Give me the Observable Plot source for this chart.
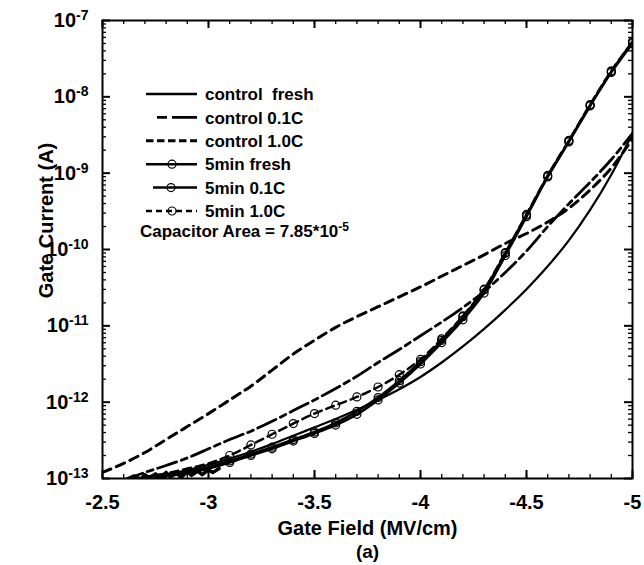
<!DOCTYPE html>
<html>
<head>
<meta charset="utf-8">
<script src="https://cdn.jsdelivr.net/npm/d3@7"></script>
<script src="https://cdn.jsdelivr.net/npm/@observablehq/plot@0.6"></script>
<style>
  html, body { margin: 0; padding: 0; background: #fff; }
  #chart svg { display: block; }
</style>
</head>
<body>
<div id="chart"></div>
<script>
// ---- data ----
const fields = [-2.5,-2.6,-2.7,-2.8,-2.9,-3.0,-3.1,-3.2,-3.3,-3.4,-3.5,-3.6,-3.7,-3.8,-3.9,-4.0,-4.1,-4.2,-4.3,-4.4,-4.5,-4.6,-4.7,-4.8,-4.9,-5.0];

const controlFresh = [null,null,9.5e-14,1.12e-13,1.29e-13,1.51e-13,1.82e-13,2.24e-13,2.82e-13,3.63e-13,4.68e-13,6.03e-13,7.94e-13,1.07e-12,1.48e-12,2.14e-12,3.31e-12,5.37e-12,9.12e-12,1.62e-11,3.02e-11,6.03e-11,1.32e-10,3.31e-10,9.55e-10,3.31e-9];
const control01C = [null,9.5e-14,1.2e-13,1.48e-13,1.86e-13,2.45e-13,3.24e-13,4.17e-13,5.62e-13,7.76e-13,1.07e-12,1.51e-12,2.19e-12,3.31e-12,4.9e-12,7.41e-12,1.12e-11,1.74e-11,2.82e-11,5.01e-11,9.55e-11,2.0e-10,3.98e-10,7.59e-10,1.51e-9,3.31e-9];
const control10C = [1.2e-13,1.58e-13,2.19e-13,3.24e-13,4.79e-13,7.08e-13,1.07e-12,1.62e-12,2.63e-12,4.27e-12,6.46e-12,9.55e-12,1.32e-11,1.78e-11,2.4e-11,3.24e-11,4.47e-11,6.17e-11,8.51e-11,1.2e-10,1.62e-10,2.29e-10,3.47e-10,6.03e-10,1.17e-9,2.82e-9];
const fiveMinFresh = [null,null,9.3e-14,1.07e-13,1.17e-13,1.35e-13,1.62e-13,2.0e-13,2.45e-13,3.09e-13,3.89e-13,5.01e-13,6.92e-13,1.07e-12,1.78e-12,3.16e-12,6.03e-12,1.2e-11,2.69e-11,8.32e-11,2.69e-10,8.91e-10,2.57e-9,7.59e-9,2.09e-8,5.01e-8];
const fiveMin01C = [null,null,9.8e-14,1.1e-13,1.23e-13,1.41e-13,1.7e-13,2.09e-13,2.57e-13,3.24e-13,4.07e-13,5.37e-13,7.59e-13,1.15e-12,1.91e-12,3.39e-12,6.46e-12,1.32e-11,2.95e-11,8.91e-11,2.82e-10,9.12e-10,2.63e-9,7.76e-9,2.14e-8,5.25e-8];
const fiveMin10C = [null,null,1.05e-13,1.17e-13,1.35e-13,1.58e-13,2.0e-13,2.75e-13,3.8e-13,5.25e-13,7.08e-13,9.12e-13,1.17e-12,1.58e-12,2.29e-12,3.63e-12,6.76e-12,1.35e-11,3.02e-11,9.12e-11,2.88e-10,9.33e-10,2.69e-9,7.94e-9,2.19e-8,5.25e-8];

// noisy measurement floor at low field (bundle of all low-field traces)
const floorFields = [-2.62,-2.65,-2.68,-2.7,-2.72,-2.75,-2.77,-2.8,-2.82,-2.85,-2.87,-2.9,-2.92,-2.95,-2.97,-3.0,-3.02,-3.05];
const floorCurrents = [1.0e-13,1.08e-13,0.98e-13,1.12e-13,1.02e-13,1.15e-13,1.0e-13,1.2e-13,1.05e-13,1.18e-13,1.03e-13,1.22e-13,1.1e-13,1.25e-13,1.12e-13,1.3e-13,1.2e-13,1.35e-13];

const seriesNames = ["control  fresh","control 0.1C","control 1.0C","5min fresh","5min 0.1C","5min 1.0C"];
const xTicks = [-2.5,-3,-3.5,-4,-4.5,-5];
const yTicks = [1e-13,1e-12,1e-11,1e-10,1e-9,1e-8,1e-7];
const xLabel = "Gate Field (MV/cm)";
const yLabel = "Gate Current (A)";
const panelLabel = "(a)";
const noteText = "Capacitor Area = 7.85*10";
const noteExp = "-5";

// ---- layout ----
const W = 644, H = 565, mL = 102, mR = 12, mT = 20, mB = 87;
const frameW = W - mL - mR, frameH = H - mT - mB;

const rows = (arr, s) => fields.map((f, i) => ({field: f, current: arr[i], series: s})).filter(d => d.current != null);
const cf = rows(controlFresh, seriesNames[0]);
const c01 = rows(control01C, seriesNames[1]);
const c10 = rows(control10C, seriesNames[2]);
const f0 = rows(fiveMinFresh, seriesNames[3]);
const f01 = rows(fiveMin01C, seriesNames[4]);
const f10 = rows(fiveMin10C, seriesNames[5]);
const floorRows = floorFields.map((f, i) => ({field: f, current: floorCurrents[i]}));
const dotsOf = r => r.filter(d => d.field <= -3.05);

const xMinor = d3.range(25, 51).map(k => -k / 10);
const yMinor = [];
for (let e = -13; e < -7; e++) for (let m = 2; m <= 9; m++) yMinor.push(m * Math.pow(10, e));

const lineOpts = (extra) => Object.assign({x: "field", y: "current", stroke: "black", strokeWidth: 2.5, curve: "catmull-rom", clip: true}, extra);
const dotOpts = {x: "field", y: "current", r: 4, stroke: "black", strokeWidth: 1.2, fill: "none", clip: true};

const chart = Plot.plot({
  width: W, height: H,
  marginLeft: mL, marginRight: mR, marginTop: mT, marginBottom: mB,
  style: {fontFamily: "'Liberation Sans', Arial, sans-serif", fontWeight: "bold", color: "black", background: "white", overflow: "visible"},
  x: {domain: [-2.5, -5], label: null},
  y: {type: "log", domain: [1e-13, 1e-7], label: null},
  marks: [
    // minor and major ticks inward on all four sides
    Plot.ruleX(xMinor, {insetTop: frameH - 4, stroke: "black", strokeWidth: 1.3}),
    Plot.ruleX(xMinor, {insetBottom: frameH - 4, stroke: "black", strokeWidth: 1.3}),
    Plot.ruleX(xTicks, {insetTop: frameH - 8, stroke: "black", strokeWidth: 2}),
    Plot.ruleX(xTicks, {insetBottom: frameH - 8, stroke: "black", strokeWidth: 2}),
    Plot.ruleY(yMinor, {insetRight: frameW - 4, stroke: "black", strokeWidth: 1.3}),
    Plot.ruleY(yMinor, {insetLeft: frameW - 4, stroke: "black", strokeWidth: 1.3}),
    Plot.ruleY(yTicks, {insetRight: frameW - 8, stroke: "black", strokeWidth: 2}),
    Plot.ruleY(yTicks, {insetLeft: frameW - 8, stroke: "black", strokeWidth: 2}),
    Plot.axisX({ticks: xTicks, tickSize: 0, tickPadding: 16, tickFormat: d => String(d), fontSize: 20, fontWeight: "bold", label: null}),
    Plot.axisY({ticks: yTicks, tickSize: 0, tickPadding: 14, tickFormat: d => "10^" + Math.round(Math.log10(d)), fontSize: 20, fontWeight: "bold", label: null}),
    // data
    Plot.line(floorRows, {x: "field", y: "current", stroke: "black", strokeWidth: 3.5, clip: true}),
    Plot.line(c10, lineOpts({strokeDasharray: "9,6", strokeWidth: 3})),
    Plot.line(c01, lineOpts({strokeDasharray: "20,5,6,5", strokeWidth: 2.8})),
    Plot.line(cf, lineOpts({strokeWidth: 2.2})),
    Plot.line(f10, lineOpts({strokeDasharray: "8,5", strokeWidth: 2.5})),
    Plot.line(f01, lineOpts({strokeWidth: 2.5})),
    Plot.line(f0, lineOpts({strokeWidth: 2.5})),
    Plot.dot(dotsOf(f10), dotOpts),
    Plot.dot(dotsOf(f01), dotOpts),
    Plot.dot(dotsOf(f0), dotOpts),
    Plot.frame({stroke: "black", strokeWidth: 2}),
    // axis titles
    Plot.text([xLabel], {frameAnchor: "bottom", dy: 50, fontSize: 20, fontWeight: "bold", textAnchor: "middle", lineAnchor: "middle"}),
    Plot.text([panelLabel], {frameAnchor: "bottom", dy: 73, fontSize: 19, fontWeight: "bold", textAnchor: "middle", lineAnchor: "middle"}),
    Plot.text([yLabel], {frameAnchor: "left", dx: -56, dy: -29, rotate: -90, fontSize: 20, fontWeight: "bold", textAnchor: "middle", lineAnchor: "middle"})
  ]
});

document.getElementById("chart").appendChild(chart);

// superscripted y tick labels
const NS = "http://www.w3.org/2000/svg";
chart.querySelectorAll('g[aria-label="y-axis tick label"] text').forEach(t => {
  const [b, e] = t.textContent.split("^");
  t.textContent = "";
  const t1 = document.createElementNS(NS, "tspan"); t1.textContent = b; t.appendChild(t1);
  const t2 = document.createElementNS(NS, "tspan"); t2.textContent = e;
  t2.setAttribute("dy", "-0.5em"); t2.setAttribute("font-size", "14");
  t.appendChild(t2);
});

// legend
const svg = d3.select(chart);
const lg = svg.append("g").attr("font-family", "'Liberation Sans', Arial, sans-serif")
  .attr("font-weight", "bold").attr("font-size", 17).attr("text-anchor", "start");
const legendRows = [
  {x1: 146, x2: 197, dash: null, w: 2.5, dot: null},
  {x1: 157, x2: 197, dash: "10,5,25", w: 2.8, dot: null},
  {x1: 146, x2: 197, dash: "7.5,3.5", w: 3, dot: null},
  {x1: 146, x2: 197, dash: null, w: 2.5, dot: 172},
  {x1: 153, x2: 197, dash: null, w: 2.5, dot: 171},
  {x1: 146, x2: 197, dash: "6,4", w: 2.5, dot: 172}
];
legendRows.forEach((r, i) => {
  const y = 94 + i * 23.4;
  const ln = lg.append("line").attr("x1", r.x1).attr("x2", r.x2).attr("y1", y).attr("y2", y)
    .attr("stroke", "black").attr("stroke-width", r.w);
  if (r.dash) ln.attr("stroke-dasharray", r.dash);
  if (r.dot) lg.append("circle").attr("cx", r.dot).attr("cy", y).attr("r", 4)
    .attr("fill", "none").attr("stroke", "black").attr("stroke-width", 1.2);
  lg.append("text").attr("x", 205).attr("y", y).attr("dy", "0.36em").style("white-space", "pre").text(seriesNames[i]);
});
const note = lg.append("text").attr("x", 140).attr("y", 231).attr("dy", "0.36em");
note.append("tspan").text(noteText);
note.append("tspan").attr("dy", "-0.5em").attr("font-size", 12).text(noteExp);
</script>
</body>
</html>
